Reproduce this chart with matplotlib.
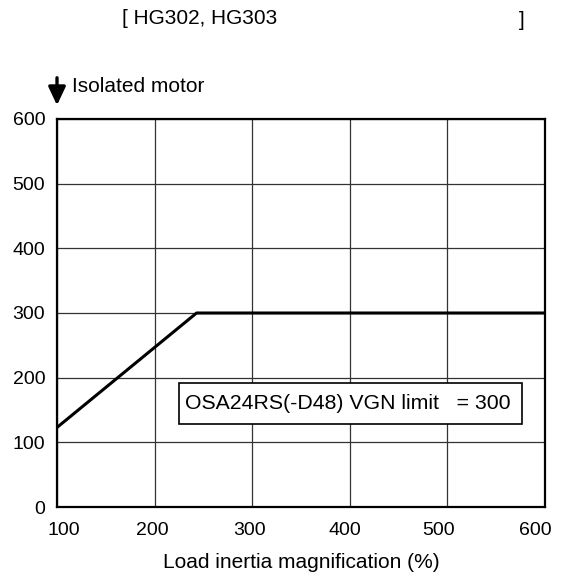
import matplotlib.pyplot as plt
from matplotlib.patches import Rectangle, FancyArrowPatch
from matplotlib.transforms import ScaledTranslation

plt.rcParams['font.family'] = ['Liberation Sans', 'DejaVu Sans']

# data
inertia = [100, 243, 600]
vgn = [123, 300, 300]
xticks = [100, 200, 300, 400, 500, 600]
yticks = [0, 100, 200, 300, 400, 500, 600]
limit_label = "OSA24RS(-D48) VGN limit   = 300"

fig = plt.figure(figsize=(5.65, 5.75), dpi=100)
ax = fig.add_axes([57/565, 1 - 507/575, 488/565, 388/575])

ax.plot(inertia, vgn, color='black', lw=2.2, solid_capstyle='butt', zorder=3)

ax.set_xlim(100, 600)
ax.set_ylim(0, 600)
ax.set_xticks(xticks)
ax.set_yticks(yticks)
ax.grid(True, color='#333333', lw=0.9)
ax.tick_params(length=0, labelsize=14)
ax.tick_params(axis='x', pad=11)
ax.tick_params(axis='y', pad=8.5)
for s in ax.spines.values():
    s.set_linewidth(1.6)
ax.set_xlabel("Load inertia magnification (%)", fontsize=15, labelpad=10)

# x tick labels in the original sit a little off their grid lines
shifts = [7, -2.5, -3, -5, -9, -9.5]
for lab, dx in zip(ax.get_xticklabels(), shifts):
    lab.set_transform(lab.get_transform() + ScaledTranslation(dx / 100, 0, fig.dpi_scale_trans))

# limit box
ax.add_patch(Rectangle((224.5, 129), 352, 63, facecolor='white',
                       edgecolor='black', lw=1.2, zorder=4))
ax.text(231, 160.5, limit_label, fontsize=15.3, va='center', ha='left', zorder=5)

# header
fig.text(122/565, 1 - 19/575, "[ HG302, HG303", fontsize=15, va='center', ha='left')
fig.text(519/565, 1 - 20/575, "]", fontsize=15, va='center', ha='left')

# isolated motor arrow
fig.add_artist(FancyArrowPatch(
    (57/565, 1 - 75/575), (57/565, 1 - 108/575), transform=fig.transFigure,
    arrowstyle='-|>,head_length=0.85,head_width=0.4', mutation_scale=13,
    color='black', lw=2.4))
fig.text(72/565, 1 - 87/575, "Isolated motor", fontsize=15, va='center', ha='left')

fig.savefig("out.png", dpi=100)
